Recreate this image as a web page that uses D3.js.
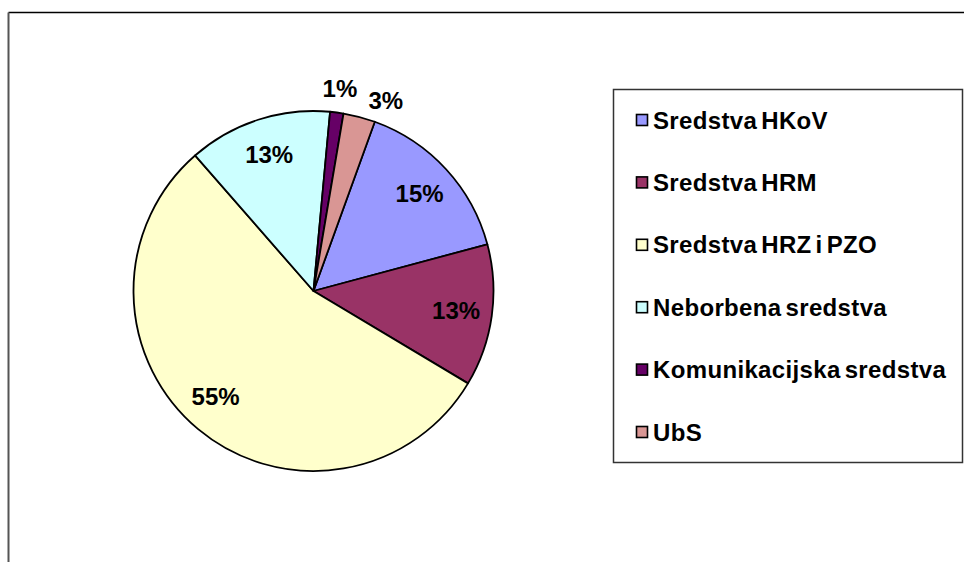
<!DOCTYPE html>
<html>
<head>
<meta charset="utf-8">
<script src="https://cdn.jsdelivr.net/npm/d3@7"></script>
<style>
  body { margin: 0; background: #fff; }
  svg { display: block; font-family: "Liberation Sans", Arial, sans-serif; font-weight: bold; }
</style>
</head>
<body>
<svg id="chart" width="964" height="562"></svg>
<script>
// data (share of total, %)
const categories = ["Sredstva HKoV", "Sredstva HRM", "Sredstva HRZ i PZO", "Neborbena sredstva", "Komunikacijska sredstva", "UbS"];
const values = [15.3, 12.75, 55.0, 12.9, 1.2, 2.86];
const colors = ["#9999ff", "#993366", "#ffffcc", "#ccffff", "#660066", "#d99694"];

const svg = d3.select("#chart");
const width = 964, height = 562;

// chart area frame (only top and left edges are visible)
svg.append("line")
    .attr("x1", 8.5).attr("y1", 12.5).attr("x2", width).attr("y2", 12.5)
    .attr("stroke", "#000").attr("stroke-width", 1.5);
svg.append("line")
    .attr("x1", 8.5).attr("y1", 12.5).attr("x2", 8.5).attr("y2", height)
    .attr("stroke", "#555").attr("stroke-width", 2);

const cx = 313.5, cy = 291, radius = 180;
const startAngle = 19.9 * Math.PI / 180;

const data = categories.map((c, i) => ({name: c, value: values[i], color: colors[i]}));
const total = d3.sum(values);

const pie = d3.pie()
    .value(d => d.value)
    .sort(null)
    .startAngle(startAngle)
    .endAngle(startAngle + 2 * Math.PI);

const arc = d3.arc().innerRadius(0).outerRadius(radius);
const labelArc = d3.arc().innerRadius(radius * 0.8).outerRadius(radius * 0.8);

const g = svg.append("g").attr("transform", `translate(${cx},${cy})`);
const arcs = pie(data);

g.selectAll("path")
  .data(arcs)
  .join("path")
    .attr("d", arc)
    .attr("fill", d => d.data.color)
    .attr("stroke", "#000")
    .attr("stroke-width", 1.8)
    .attr("stroke-linejoin", "round");

// small slices get their labels outside, nudged apart like Excel does
const nudge = {"UbS": 6 * Math.PI / 180, "Sredstva HRZ i PZO": 3 * Math.PI / 180};

g.selectAll("text.lbl")
  .data(arcs)
  .join("text")
    .attr("class", "lbl")
    .attr("transform", d => {
      const share = d.data.value / total;
      const a = (d.startAngle + d.endAngle) / 2 + (nudge[d.data.name] || 0);
      const r = share < 0.05 ? radius + 24 : radius * 0.8;
      return `translate(${Math.sin(a) * r},${-Math.cos(a) * r})`;
    })
    .attr("text-anchor", "middle")
    .attr("dy", "0.36em")
    .attr("font-size", 24)
    .attr("fill", "#000")
    .text(d => Math.round(d.data.value / total * 100) + "%");

// legend
const lx = 613.5, ly = 89.5, lw = 349, lh = 373;
svg.append("rect")
    .attr("x", lx).attr("y", ly).attr("width", lw).attr("height", lh)
    .attr("fill", "#fff").attr("stroke", "#333").attr("stroke-width", 1.5);

const rowY = d3.scalePoint()
    .domain(categories)
    .range([120, 432]);

const item = svg.append("g").selectAll("g")
  .data(data)
  .join("g")
    .attr("transform", d => `translate(636,${rowY(d.name)})`);

item.append("rect")
    .attr("x", 0.5).attr("y", -5.5).attr("width", 11).attr("height", 11)
    .attr("fill", d => d.color)
    .attr("stroke", "#000")
    .attr("stroke-width", 1.6);

item.append("text")
    .attr("x", 17)
    .attr("dy", "0.36em")
    .attr("font-size", 24)
    .attr("letter-spacing", 0.35)
    .attr("word-spacing", -3)
    .attr("fill", "#000")
    .text(d => d.name);
</script>
</body>
</html>
